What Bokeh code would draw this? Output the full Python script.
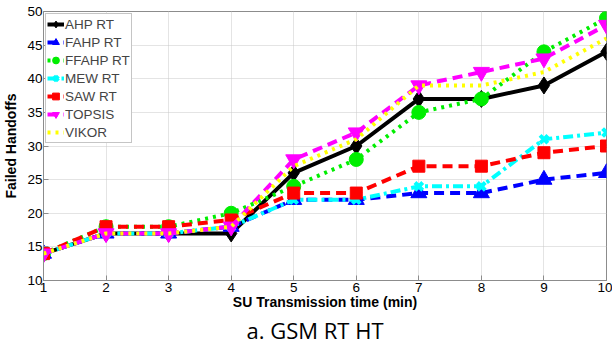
from bokeh.plotting import figure
from bokeh.models import Range1d, Title, FixedTicker, Legend, LegendItem
from bokeh.embed import file_html
from bokeh.resources import INLINE

x = [1, 2, 3, 4, 5, 6, 7, 8, 9, 10]
ahp = [14, 17, 17, 17, 26, 30, 37, 37, 39, 44]
fahp = [14, 17, 17, 18, 22, 22, 23, 23, 25, 26]
ffahp = [14, 18, 18, 20, 24, 28, 35, 37, 44, 49]
mew = [14, 17, 17, 18, 22, 22, 24, 24, 31, 32]
saw = [14, 18, 18, 19, 23, 23, 27, 27, 29, 30]
topsis = [14, 17, 17, 18, 28, 32, 39, 41, 43, 48]
vikor = [14, 17, 17, 18, 27, 31, 39, 39, 41, 46]

series = [
    ("AHP RT", ahp, "black", "solid", "diamond", 17),
    ("FAHP RT", fahp, "#0000ff", "10 6", "triangle", 16),
    ("FFAHP RT", ffahp, "#00ee00", "3 5", "circle", 14),
    ("MEW RT", mew, "#00ffff", "10 4 3 4", "x", 11),
    ("SAW RT", saw, "#ff0000", "10 6", "square", 12),
    ("TOPSIS", topsis, "#ff00ff", "10 6", "inverted_triangle", 16),
    ("VIKOR", vikor, "#ffff00", "3 5", None, 0),
]

p = figure(width=612, height=344, output_backend="svg", toolbar_location=None,
           x_range=Range1d(1, 10), y_range=Range1d(10, 50),
           min_border_left=42, min_border_right=6, min_border_top=11, min_border_bottom=63)
p.background_fill_color = "white"
p.border_fill_color = "white"
p.outline_line_color = "#8c8c8c"
p.outline_line_width = 1

items = []
for name, ys, color, dash, marker, size in series:
    rs = []
    rs.append(p.line(x, ys, line_color=color, line_width=4, line_dash=dash))
    if marker:
        if marker == "x":
            rs.append(p.scatter(x, ys, marker="x", size=size, line_color=color, line_width=4))
        else:
            rs.append(p.scatter(x, ys, marker=marker, size=size, fill_color=color, line_color=color))
    items.append(LegendItem(label=name, renderers=rs))

legend = Legend(items=items, location="top_left",
                label_text_font="Liberation Sans", label_text_font_size="13.5px",
                label_standoff=1, glyph_width=17, glyph_height=18, spacing=0,
                padding=1, margin=2, label_height=18,
                border_line_color="#8c8c8c", background_fill_alpha=1.0)
p.add_layout(legend)

for ax in (p.xaxis[0], p.yaxis[0]):
    ax.major_tick_in = 5
    ax.major_tick_out = 0
    ax.minor_tick_line_color = None
    ax.axis_line_color = "#8c8c8c"
    ax.major_tick_line_color = "#8c8c8c"
    ax.major_label_text_font = "Liberation Sans"
    ax.major_label_text_font_size = "13.5px"
    ax.major_label_text_color = "black"
    ax.axis_label_text_font = "Liberation Sans"
    ax.axis_label_text_font_style = "bold"
    ax.axis_label_text_font_size = "14px"
    ax.axis_label_text_color = "black"

p.xaxis[0].ticker = FixedTicker(ticks=x)
p.yaxis[0].ticker = FixedTicker(ticks=[10, 15, 20, 25, 30, 35, 40, 45, 50])
p.xaxis[0].axis_label = "SU Transmission time (min)"
p.yaxis[0].axis_label = "Failed Handoffs"
p.xaxis[0].major_label_standoff = 2
p.xaxis[0].axis_label_standoff = -1
p.yaxis[0].major_label_standoff = 1
p.yaxis[0].axis_label_standoff = 5

p.xgrid.grid_line_color = "#c8c8c8"
p.ygrid.grid_line_color = "#c8c8c8"
p.xgrid.grid_line_dash = "1 1"
p.ygrid.grid_line_dash = "1 1"

cap = Title(text="a. GSM RT HT", align="left", text_font="Open Sans",
            text_font_size="22px", text_font_style="normal", text_color="black",
            standoff=0, offset=203)
p.add_layout(cap, "below")

open("out.html", "w").write(file_html(p, INLINE))
